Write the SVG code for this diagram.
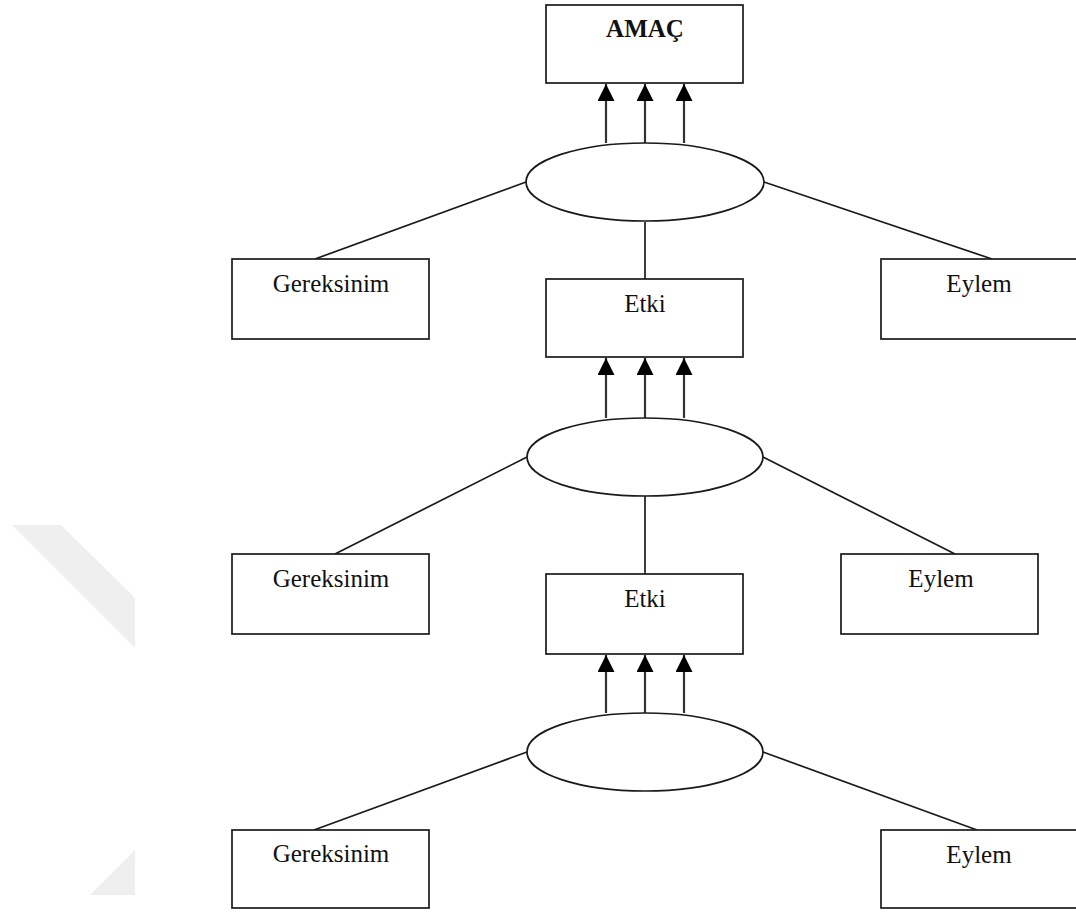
<svg xmlns="http://www.w3.org/2000/svg" width="1076" height="913" viewBox="0 0 1076 913">
  <style>
    .box { fill: #ffffff; stroke: #1a1a1a; stroke-width: 1.7; }
    .oval { fill: #ffffff; stroke: #1a1a1a; stroke-width: 1.7; }
    .link { stroke: #1a1a1a; stroke-width: 1.7; fill: none; }
    .up { stroke: #333333; stroke-width: 2.2; fill: none; marker-end: url(#tri); }
    .label { font-family: "Liberation Serif", "Times New Roman", serif; font-size: 25px; fill: #111111; text-anchor: middle; }
    .bold { font-weight: bold; }
    .mark { fill: #efefef; }
  </style>
  <defs>
    <marker id="tri" viewBox="0 0 10 10" refX="10" refY="5" markerUnits="userSpaceOnUse" markerWidth="17" markerHeight="17" orient="auto">
      <path d="M0,0 L10,5 L0,10 Z" fill="#000000"/>
    </marker>
  </defs>

  <!-- faint background marks -->
  <polygon class="mark" points="12,525 61,525 135,598 135,648"/>
  <polygon class="mark" points="135,850 135,895 90,895"/>

  <g id="connectors">
    <!-- level 1 -->
    <line class="up" x1="606" y1="143" x2="606" y2="84"/>
    <line class="up" x1="645" y1="143" x2="645" y2="84"/>
    <line class="up" x1="684" y1="143" x2="684" y2="84"/>
    <line class="link" x1="526" y1="182" x2="315" y2="259"/>
    <line class="link" x1="764" y1="182" x2="992" y2="259"/>
    <line class="link" x1="645" y1="222" x2="645" y2="279"/>
    <!-- level 2 -->
    <line class="up" x1="606" y1="418" x2="606" y2="358"/>
    <line class="up" x1="645" y1="418" x2="645" y2="358"/>
    <line class="up" x1="684" y1="418" x2="684" y2="358"/>
    <line class="link" x1="527" y1="457" x2="335" y2="554"/>
    <line class="link" x1="763" y1="457" x2="955" y2="554"/>
    <line class="link" x1="645" y1="496" x2="645" y2="574"/>
    <!-- level 3 -->
    <line class="up" x1="606" y1="713" x2="606" y2="655"/>
    <line class="up" x1="645" y1="713" x2="645" y2="655"/>
    <line class="up" x1="684" y1="713" x2="684" y2="655"/>
    <line class="link" x1="527" y1="752" x2="314" y2="830"/>
    <line class="link" x1="763" y1="752" x2="977" y2="830"/>
  </g>

  <g id="amac">
    <rect class="box" x="546" y="5" width="197" height="78"/>
    <text class="label bold" x="645" y="37">AMAÇ</text>
  </g>

  <g id="oval1"><ellipse class="oval" cx="645" cy="182" rx="119" ry="39"/></g>
  <g id="gereksinim1">
    <rect class="box" x="232" y="259" width="197" height="80"/>
    <text class="label" x="331" y="292">Gereksinim</text>
  </g>
  <g id="etki1">
    <rect class="box" x="546" y="279" width="197" height="78"/>
    <text class="label" x="645" y="312">Etki</text>
  </g>
  <g id="eylem1">
    <rect class="box" x="881" y="259" width="197" height="80"/>
    <text class="label" x="979" y="292">Eylem</text>
  </g>

  <g id="oval2"><ellipse class="oval" cx="645" cy="457" rx="118" ry="39"/></g>
  <g id="gereksinim2">
    <rect class="box" x="232" y="554" width="197" height="80"/>
    <text class="label" x="331" y="587">Gereksinim</text>
  </g>
  <g id="etki2">
    <rect class="box" x="546" y="574" width="197" height="80"/>
    <text class="label" x="645" y="607">Etki</text>
  </g>
  <g id="eylem2">
    <rect class="box" x="841" y="554" width="197" height="80"/>
    <text class="label" x="941" y="587">Eylem</text>
  </g>

  <g id="oval3"><ellipse class="oval" cx="645" cy="752" rx="118" ry="39"/></g>
  <g id="gereksinim3">
    <rect class="box" x="232" y="830" width="197" height="78"/>
    <text class="label" x="331" y="862">Gereksinim</text>
  </g>
  <g id="eylem3">
    <rect class="box" x="881" y="830" width="197" height="78"/>
    <text class="label" x="979" y="863">Eylem</text>
  </g>
</svg>
